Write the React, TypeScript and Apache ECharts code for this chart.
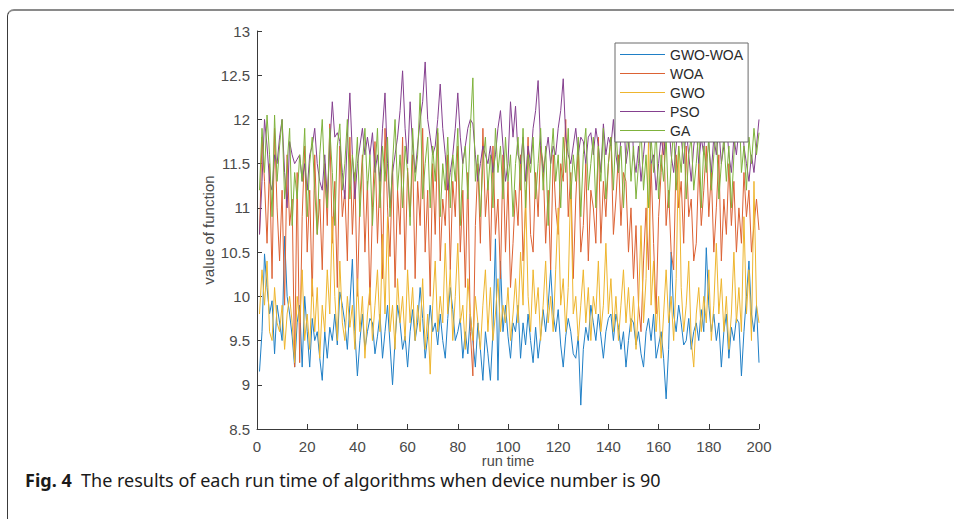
import React, { useEffect, useRef } from "react";
import * as echarts from "echarts";

const seriesNames = ["GWO-WOA", "WOA", "GWO", "PSO", "GA"];
const seriesColors = ["#1f7fc6", "#dc6234", "#eeb52e", "#85408f", "#7fb23c"];
const xTicks = [0, 20, 40, 60, 80, 100, 120, 140, 160, 180, 200];
const yTicks = [8.5, 9, 9.5, 10, 10.5, 11, 11.5, 12, 12.5, 13];

const gwoWoa = [
  9.15, 9.6, 10.48, 10.1, 9.8, 9.95, 9.35, 9.9, 9.7, 9.5,
  10.68, 10.0, 9.8, 9.55, 9.2, 9.7, 9.9, 9.2, 10.0, 9.6,
  9.2, 9.75, 9.5, 9.6, 9.3, 9.05, 9.6, 9.3, 9.65, 9.5,
  9.8, 9.45, 10.05, 9.9, 9.7, 9.4, 9.9, 10.42, 9.6, 9.1,
  9.5, 9.8, 9.4, 9.6, 9.75, 9.7, 9.35, 9.55, 9.8, 9.3,
  9.6, 9.9, 9.45, 9.0, 9.5, 9.9, 9.7, 9.4, 9.55, 9.2,
  9.6, 9.85, 9.5, 9.7, 10.1, 9.75, 9.3, 9.55, 9.9, 9.6,
  9.7, 9.45, 9.8, 9.5, 9.3, 9.75, 10.1, 9.85, 9.5, 9.6,
  9.75, 9.3, 9.6, 9.35, 9.8, 9.5, 9.2, 9.7, 9.4, 9.05,
  9.6, 9.35, 9.05, 9.6, 10.65, 9.05, 10.4, 9.6, 9.9, 9.55,
  9.3, 9.7, 9.6, 9.9, 9.3, 9.7, 9.45, 9.8, 9.5, 9.25,
  9.65, 9.3, 9.55, 9.85, 9.6, 9.9, 10.3, 9.8, 9.6, 9.85,
  9.45, 9.2, 9.55, 9.75, 9.6, 9.35, 9.3, 9.55, 8.77, 9.4,
  9.65, 9.5, 9.9, 9.7, 9.5, 9.8, 9.55, 9.3, 9.6, 9.75,
  9.8, 9.5, 9.8, 9.65, 9.4, 9.6, 9.2, 9.5, 9.75, 9.7,
  9.45, 9.6, 9.35, 9.2, 9.6, 9.75, 9.5, 9.8, 9.3, 9.45,
  9.6, 9.3, 8.84, 9.4, 10.5, 9.8, 9.6, 9.9, 9.7, 9.45,
  9.5, 9.75, 9.4, 9.6, 9.7, 9.5, 9.85, 9.6, 10.55, 9.9,
  9.6, 9.8, 9.5, 9.7, 9.2, 9.6, 9.8, 9.3, 9.65, 9.5,
  9.75, 9.7, 9.1, 9.6, 10.0, 10.4, 9.8, 9.6, 9.9, 9.25,
];

const woa = [
  10.7, 11.8, 11.3, 10.6, 11.5, 10.2, 11.9, 11.0, 10.4, 11.2,
  9.9, 11.6, 10.8, 11.1, 9.2, 11.4, 9.25, 10.9, 11.7, 10.5,
  11.2, 10.0, 11.6, 10.7, 11.1, 10.3, 11.5, 10.8, 11.95, 10.6,
  11.3, 10.1, 11.7, 10.9, 11.2, 10.4, 11.8, 10.7, 11.4, 10.0,
  11.1, 11.6, 10.5, 11.3, 9.9, 11.0, 11.75, 10.6, 11.4, 10.2,
  11.9, 11.0, 10.45, 11.5, 10.1, 11.2, 10.7, 11.8, 10.3, 11.45,
  10.9, 11.6, 10.2, 11.3, 10.8, 11.9, 10.5, 11.2, 10.0, 11.5,
  10.7, 11.85, 10.4, 11.1, 10.8, 11.6, 10.3, 11.3, 10.9, 11.7,
  10.5, 11.2, 10.1, 11.4, 9.6, 9.1, 10.8, 11.5, 10.6, 11.9,
  10.9, 11.3, 10.4, 11.7, 10.7, 11.1, 10.2, 11.6, 10.5, 11.3,
  10.1, 10.6, 11.2, 10.8, 11.6, 10.4, 11.0, 11.8, 10.7, 10.5,
  11.4, 10.9, 11.7, 11.5, 10.6, 11.2, 10.3, 11.6, 11.0, 10.7,
  11.5, 11.3, 12.0, 10.9, 11.4, 10.2, 11.1, 11.7, 10.5, 10.8,
  11.5, 10.4, 11.2, 11.0, 10.6, 11.8, 10.6, 11.3, 10.9, 11.5,
  11.8, 10.7, 11.1, 11.6, 10.8, 11.4, 11.3, 10.5, 11.0, 10.2,
  10.8, 9.9, 9.6, 10.4, 11.0, 10.3, 11.5, 10.6, 9.8, 10.9,
  11.4, 11.9, 10.8, 11.2, 10.5, 10.3, 11.6, 11.0, 11.3, 10.6,
  11.7, 10.9, 11.1, 10.4, 10.6, 11.5, 10.8, 11.2, 11.7, 10.9,
  11.4, 10.5, 11.0, 11.6, 10.4, 11.1, 10.7, 11.5, 10.8, 11.3,
  10.5, 11.0, 10.6, 11.4, 10.9, 11.2, 10.5, 10.8, 11.1, 10.75,
];

const gwo = [
  9.8, 10.3, 9.9, 10.4, 9.6, 9.5, 10.1, 9.7, 9.6, 9.9,
  9.4, 9.8, 10.0, 9.7, 9.25, 10.0, 9.7, 10.3, 9.5, 9.8,
  9.4, 10.2, 9.6, 10.1, 9.3, 9.9, 9.6, 10.3, 9.8, 10.9,
  10.0, 9.5, 10.4, 9.7, 9.5, 10.0, 9.65, 9.9, 9.4, 10.2,
  9.6, 10.0, 9.3, 9.8, 10.1, 9.5, 9.9, 10.3, 9.6, 10.7,
  9.8, 10.9, 9.6, 9.9, 9.4, 10.2, 9.7, 10.0, 9.5, 10.3,
  9.7, 10.1, 9.5, 9.9, 9.6, 10.2, 9.4, 9.8, 9.12, 9.9,
  10.4, 9.6, 10.0, 9.7, 10.6, 9.8, 10.3, 9.5, 10.0, 10.6,
  9.7, 9.9, 9.4, 10.2, 9.8, 9.5, 10.0, 9.7, 9.4, 9.9,
  10.3, 9.6, 10.1, 9.5, 9.8, 10.2, 9.6, 9.9, 9.7, 10.1,
  9.5, 9.8, 10.2, 9.7, 10.5, 9.9, 11.2, 10.0, 9.6, 10.3,
  9.8, 10.1, 9.5, 9.9, 10.4, 9.7, 10.0, 9.6, 10.3, 11.0,
  9.9, 10.2, 9.6, 10.1, 11.3, 9.8, 10.0, 9.5, 9.9, 10.3,
  9.7, 10.1, 9.5, 10.0, 9.8, 10.4, 9.6, 9.9, 10.6, 9.8,
  10.2, 9.6, 10.0, 9.5, 9.9, 10.3, 9.7, 10.1, 9.6, 10.0,
  9.4, 9.9, 10.8, 9.7, 10.2, 11.8, 9.9, 10.4, 9.6, 10.0,
  9.3, 9.8, 10.3, 9.7, 10.0, 9.5, 10.2, 11.7, 10.1, 9.6,
  9.9, 10.4, 9.5, 9.2, 9.8, 10.1, 9.6, 10.0, 9.7, 10.3,
  9.5, 9.9, 10.6, 9.8, 10.2, 9.6, 10.0, 9.4, 9.8, 10.5,
  9.7, 10.1, 9.6, 10.9, 9.8, 10.3, 9.5, 11.3, 9.9, 9.7,
];

const pso = [
  10.7, 11.3, 12.0, 11.7, 11.3, 11.2, 11.6, 11.5, 11.8, 12.0,
  11.4, 11.0, 11.75, 11.6, 11.5, 11.55, 11.6, 11.3, 11.5, 11.2,
  11.6, 11.7, 11.9, 11.5, 11.3, 11.2, 11.6, 11.1, 11.7, 12.2,
  11.8, 11.85, 11.75, 11.4, 11.1, 11.8, 12.3, 11.6, 11.1, 11.5,
  11.7, 11.9, 11.6, 11.8, 11.6, 11.85, 11.4, 11.6, 11.3, 11.9,
  12.3, 11.5, 11.0, 11.4, 11.6, 11.8, 12.1, 12.55, 11.9, 11.5,
  12.2, 11.7, 11.4, 11.7, 12.0, 12.2, 12.65, 12.0, 11.8, 11.6,
  11.7, 12.0, 12.4, 11.9, 11.6, 11.2, 11.4, 11.6, 11.9, 12.3,
  11.8, 11.5, 11.7, 11.9, 12.0, 11.95, 11.6, 11.3, 11.5, 11.7,
  11.6, 11.5, 11.7, 11.4, 11.6, 11.9, 12.1, 11.7, 11.3, 11.5,
  12.2, 11.8, 12.15, 11.6, 11.5, 11.8, 11.3, 11.7, 11.5, 11.9,
  12.1, 12.44, 11.7, 11.4, 11.6, 11.8, 11.5, 11.7, 11.6, 11.9,
  12.1, 12.46, 11.8, 11.6, 11.5, 11.7, 11.9, 11.6, 11.8, 11.75,
  11.5, 11.8, 11.85, 11.6, 11.9, 11.7, 11.4, 11.95, 11.6, 11.8,
  11.7, 12.0, 11.6, 11.4, 11.8, 12.1, 11.5, 11.7, 12.3, 11.6,
  11.4, 11.7, 11.3, 11.6, 11.9, 12.1, 11.5, 11.6, 11.2, 11.5,
  11.8, 11.6, 11.9, 12.0, 11.6, 11.4, 11.7, 12.0, 11.8, 11.5,
  11.9, 11.6, 11.3, 11.7, 11.9, 11.5, 11.8, 11.6, 12.2, 11.7,
  11.4, 11.8, 11.6, 11.9, 11.5, 11.7, 12.0, 11.6, 11.4, 11.8,
  11.6, 11.9, 12.2, 11.7, 11.5, 11.3, 11.6, 11.4, 11.7, 12.0,
];

const ga = [
  11.2, 11.9, 11.4, 12.05, 11.6, 10.9, 12.05, 11.3, 11.7, 12.0,
  11.1, 11.5, 11.9, 10.8, 11.4, 11.1, 11.6, 11.3, 11.9, 10.9,
  11.5, 11.8, 11.2, 10.7, 11.6, 12.0, 11.3, 11.0, 11.9, 11.4,
  10.8, 11.7, 11.95, 11.2, 11.5, 12.0, 11.1, 11.6, 11.3, 11.8,
  10.9, 11.5, 11.9, 11.2, 11.6, 10.8, 11.4, 11.9, 11.0, 11.7,
  11.3, 11.8, 10.9, 11.5, 12.0, 11.2, 11.6, 11.0, 11.7, 11.4,
  10.8, 11.9, 11.3, 11.6, 12.3, 11.1, 11.5, 11.8, 11.0, 11.7,
  11.3, 11.9, 10.9, 11.5, 11.2, 11.8, 11.0, 11.6, 11.3, 11.9,
  10.8, 11.5, 11.7, 11.1, 11.9, 12.47, 11.3, 11.6, 10.9, 11.5,
  11.8, 11.2, 11.6, 11.0, 11.9, 11.4, 11.7, 11.1, 11.8, 11.3,
  11.6, 10.9, 11.5, 11.8, 11.2, 11.9, 11.0, 11.6, 11.4, 11.8,
  11.1, 11.5, 11.9, 11.2, 11.7, 10.8, 11.5, 11.9, 11.3, 11.6,
  11.0, 11.8, 11.4, 11.9, 11.1, 11.6, 11.3, 11.8, 10.9, 11.6,
  11.9, 11.2, 11.5, 11.8, 11.0, 11.7, 11.3, 11.9, 11.1, 11.5,
  11.8, 11.2, 11.9, 11.4, 11.7, 11.0, 11.6, 11.9, 11.3, 11.7,
  11.1, 11.5, 11.9, 11.2, 11.6, 11.0, 11.8, 11.4, 11.9, 11.1,
  11.6, 11.3, 11.8, 11.0, 11.5, 11.9, 11.2, 11.7, 11.4, 11.9,
  11.1, 11.6, 11.8, 11.2, 11.5, 11.9, 11.0, 11.7, 11.4, 11.8,
  11.2, 11.6, 11.9, 11.1, 11.5, 11.8, 11.3, 11.7, 11.0, 11.6,
  12.0, 12.25, 11.4, 11.7, 11.2, 11.8, 11.5, 11.9, 11.6, 11.85,
];

const allSeries = [gwoWoa, woa, gwo, pso, ga];

const captionBold = "Fig. 4";
const captionText = "The results of each run time of algorithms when device number is 90";

export default function App() {
  const ref = useRef<HTMLDivElement>(null);

  useEffect(() => {
    if (!ref.current) return;
    const chart = echarts.init(ref.current, null, { renderer: "svg" });
    const axisColor = "#3a3a3a";
    const labelColor = "#4a4a4a";
    const font = "'Liberation Sans', Arial, Helvetica, sans-serif";
    const capFont = "'Noto Sans', 'Open Sans', sans-serif";

    chart.setOption({
      animation: false,
      backgroundColor: "transparent",
      grid: { left: 257, right: 195, top: 31, bottom: 90, containLabel: false },
      legend: {
        data: seriesNames,
        orient: "vertical",
        left: 615,
        top: 43,
        z: 20,
        padding: [2, 5, 2, 5],
        itemGap: 0,
        itemWidth: 45,
        itemHeight: 1.2,
        icon: "rect",
        borderColor: "#6a6a6a",
        borderWidth: 1,
        backgroundColor: "#ffffff",
        selectedMode: false,
        textStyle: {
          fontFamily: font,
          fontSize: 14,
          color: "#2a2a2a",
          lineHeight: 19,
          padding: [0, 0, 0, 0],
        },
      },
      xAxis: {
        type: "value",
        min: 0,
        max: 200,
        interval: 20,
        name: "run time",
        nameLocation: "middle",
        nameGap: 25,
        nameMoveOverlap: false,
        nameTextStyle: { fontFamily: font, fontSize: 14.5, color: labelColor, lineHeight: 14 },
        axisLine: { show: true, onZero: false, lineStyle: { color: axisColor, width: 1 } },
        axisTick: { show: true, inside: true, length: 5, lineStyle: { color: axisColor } },
        axisLabel: { fontFamily: font, fontSize: 15, lineHeight: 14, color: labelColor, margin: 10 },
        splitLine: { show: false },
      },
      yAxis: {
        type: "value",
        min: yTicks[0],
        max: yTicks[yTicks.length - 1],
        interval: 0.5,
        name: "value of function",
        nameLocation: "middle",
        nameGap: 41,
        nameMoveOverlap: false,
        nameTextStyle: { fontFamily: font, fontSize: 15, color: labelColor },
        axisLine: { show: true, onZero: false, lineStyle: { color: axisColor, width: 1 } },
        axisTick: { show: true, inside: true, length: 5, lineStyle: { color: axisColor } },
        axisLabel: { fontFamily: font, fontSize: 15, color: labelColor, margin: 7 },
        splitLine: { show: false },
      },
      series: seriesNames.map((name, i) => ({
        name,
        type: "line",
        symbol: "none",
        showSymbol: false,
        lineStyle: { color: seriesColors[i], width: 1 },
        itemStyle: { color: seriesColors[i] },
        data: allSeries[i].map((v, k) => [k + 1, v]),
      })),
      graphic: [
        {
          type: "text",
          left: 25,
          top: 470,
          style: {
            text: `{b|${captionBold}}  ${captionText}`,
            fontFamily: capFont,
            fontSize: 18,
            lineHeight: 20,
            fill: "#1a1a1a",
            rich: {
              b: {
                fontFamily: capFont,
                fontSize: 18,
                lineHeight: 20,
                fontWeight: "bold",
                fill: "#1a1a1a",
              },
            },
          },
        },
      ],
    });

    return () => chart.dispose();
  }, []);

  return (
    <div
      style={{
        position: "absolute",
        left: 0,
        top: 0,
        width: 954,
        height: 519,
        overflow: "hidden",
        background: "#ffffff",
      }}
    >
      <div
        style={{
          position: "absolute",
          left: 7,
          top: 9,
          width: 1000,
          height: 600,
          borderTop: "2px solid #8a8a8a",
          borderLeft: "1.5px solid #3a3a3a",
          borderTopLeftRadius: 7,
          boxSizing: "border-box",
        }}
      />
      <div ref={ref} style={{ position: "absolute", left: 0, top: 0, width: 954, height: 519 }} />
    </div>
  );
}
